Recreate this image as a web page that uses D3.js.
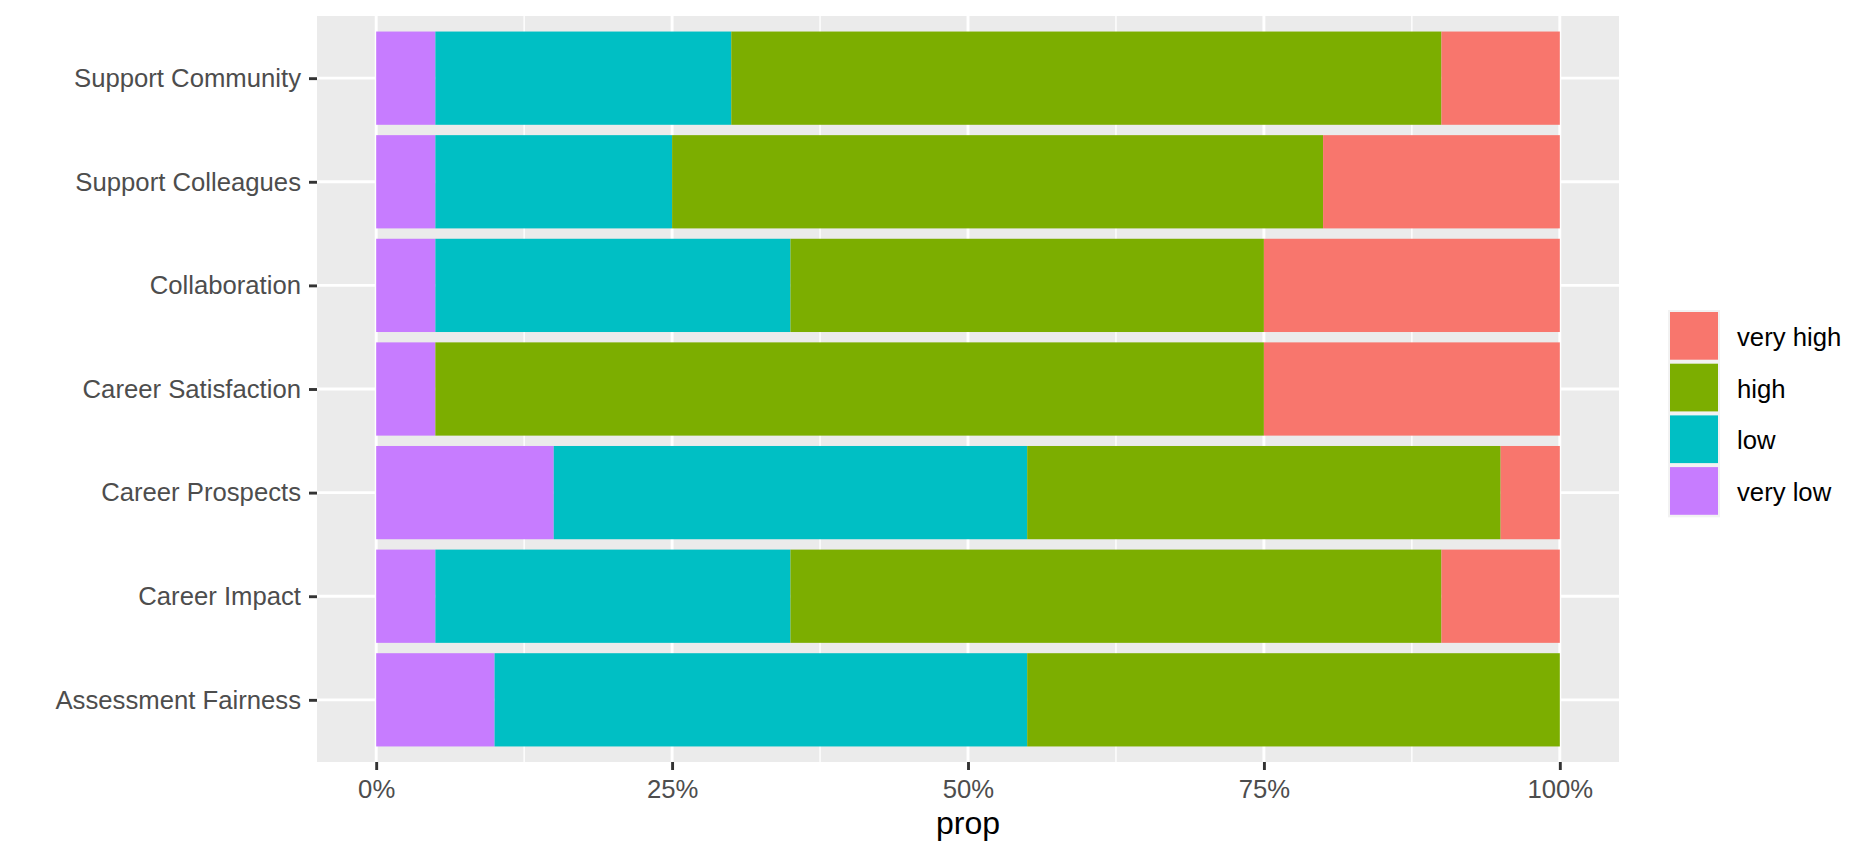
<!DOCTYPE html>
<html>
<head>
<meta charset="utf-8">
<script src="https://cdn.jsdelivr.net/npm/d3@7"></script>
<style>
  html, body { margin: 0; padding: 0; background: #fff; }
  svg { display: block; font-family: "Liberation Sans", Arial, sans-serif; }
</style>
</head>
<body>
<svg id="chart" width="1874" height="859"></svg>
<script>
// ---- data ----
const categories = ["Support Community", "Support Colleagues", "Collaboration",
  "Career Satisfaction", "Career Prospects", "Career Impact", "Assessment Fairness"];
// levels in stacking order (left to right)
const levels = ["very low", "low", "high", "very high"];
const veryLow  = [0.05, 0.05, 0.05, 0.05, 0.15, 0.05, 0.10];
const low      = [0.25, 0.20, 0.30, 0.00, 0.40, 0.30, 0.45];
const high     = [0.60, 0.55, 0.40, 0.70, 0.40, 0.55, 0.45];
const veryHigh = [0.10, 0.20, 0.25, 0.25, 0.05, 0.10, 0.00];
const legendOrder = ["very high", "high", "low", "very low"];
const xTicks = [0, 0.25, 0.5, 0.75, 1];
const xMinor = [0.125, 0.375, 0.625, 0.875];
const xTitle = "prop";

const colors = { "very high": "#F8766D", "high": "#7CAE00", "low": "#00BFC4", "very low": "#C77CFF" };

const rows = categories.map((c, i) => ({
  category: c, "very low": veryLow[i], "low": low[i], "high": high[i], "very high": veryHigh[i]
}));
const stacked = d3.stack().keys(levels)(rows);

// ---- layout ----
const panel = { left: 317, right: 1619, top: 16, bottom: 762 };
const svg = d3.select("#chart");
const fontSize = "25.7px";

const x = d3.scaleLinear().domain([-0.05, 1.05]).range([panel.left, panel.right]);
const y = d3.scalePoint().domain(categories).range([panel.top, panel.bottom]).padding(0.6);
const barH = y.step() * 0.9;

// panel background
svg.append("rect")
  .attr("x", panel.left).attr("y", panel.top)
  .attr("width", panel.right - panel.left).attr("height", panel.bottom - panel.top)
  .attr("fill", "#EBEBEB");

const grid = svg.append("g");
grid.selectAll("line.minor").data(xMinor).join("line")
  .attr("x1", d => x(d)).attr("x2", d => x(d))
  .attr("y1", panel.top).attr("y2", panel.bottom)
  .attr("stroke", "#fff").attr("stroke-width", 1.4);
grid.selectAll("line.majx").data(xTicks).join("line")
  .attr("x1", d => x(d)).attr("x2", d => x(d))
  .attr("y1", panel.top).attr("y2", panel.bottom)
  .attr("stroke", "#fff").attr("stroke-width", 2.9);
grid.selectAll("line.majy").data(categories).join("line")
  .attr("y1", d => y(d)).attr("y2", d => y(d))
  .attr("x1", panel.left).attr("x2", panel.right)
  .attr("stroke", "#fff").attr("stroke-width", 2.9);

// bars
svg.append("g").selectAll("g").data(stacked).join("g")
  .attr("fill", s => colors[s.key])
  .selectAll("rect").data(s => s).join("rect")
  .attr("x", d => x(d[0]))
  .attr("width", d => Math.max(0, x(d[1]) - x(d[0])))
  .attr("y", d => y(d.data.category) - barH / 2)
  .attr("height", barH);

// axes
const xAxis = svg.append("g")
  .attr("transform", `translate(0,${panel.bottom})`)
  .call(d3.axisBottom(x).tickValues(xTicks).tickFormat(d3.format(".0%")).tickSize(8).tickPadding(10));
xAxis.select(".domain").remove();
xAxis.selectAll(".tick line").attr("stroke", "#333333").attr("stroke-width", 2.9);
xAxis.selectAll(".tick text").attr("fill", "#4D4D4D").style("font-size", fontSize)
  .style("font-family", "'Liberation Sans', Arial, sans-serif");

const yAxis = svg.append("g")
  .attr("transform", `translate(${panel.left},0)`)
  .call(d3.axisLeft(y).tickSize(8).tickPadding(8));
yAxis.select(".domain").remove();
yAxis.selectAll(".tick line").attr("stroke", "#333333").attr("stroke-width", 2.9);
yAxis.selectAll(".tick text").attr("fill", "#4D4D4D").style("font-size", fontSize)
  .style("font-family", "'Liberation Sans', Arial, sans-serif");

// x title
svg.append("text")
  .attr("x", (panel.left + panel.right) / 2).attr("y", 834)
  .attr("text-anchor", "middle").attr("fill", "#000")
  .style("font-size", "32px")
  .text(xTitle);

// legend
const legend = svg.append("g").attr("transform", "translate(1668,310)");
const keyStep = 51.7, keySize = 48;
legend.append("rect")
  .attr("x", 0).attr("y", 0).attr("width", keySize + 4).attr("height", keyStep * 4 + 0.5)
  .attr("fill", "#F2F2F2");
const items = legend.selectAll("g.item").data(legendOrder).join("g")
  .attr("transform", (d, i) => `translate(0,${i * keyStep})`);
items.append("rect")
  .attr("x", 2).attr("y", 2).attr("width", keySize).attr("height", keyStep - 4)
  .attr("fill", d => colors[d]);
items.append("text")
  .attr("x", 69).attr("y", keyStep / 2 + 1)
  .attr("dy", "0.35em").attr("fill", "#000")
  .style("font-size", fontSize)
  .text(d => d);
</script>
</body>
</html>
